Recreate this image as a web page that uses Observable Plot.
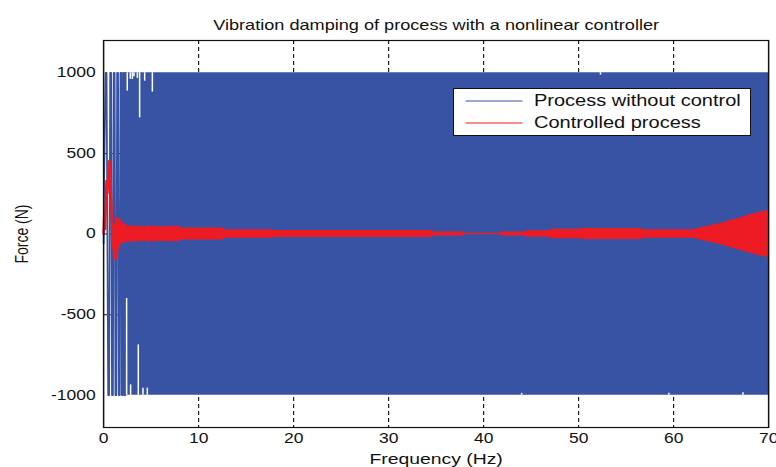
<!DOCTYPE html>
<html>
<head>
<meta charset="utf-8">
<script src="https://cdn.jsdelivr.net/npm/d3@7"></script>
<script src="https://cdn.jsdelivr.net/npm/@observablehq/plot@0.6"></script>
<style>
  html, body { margin: 0; padding: 0; background: #fff; }
  #wrap { position: relative; width: 776px; height: 467px; font-family: "Liberation Sans", Arial, sans-serif; overflow: hidden; }
  #legend { position: absolute; left: 453px; top: 88px; width: 298px; height: 48px; background: #fff; border: 1px solid #111; box-sizing: border-box; }
  #legend .inner { position: absolute; left: 0; top: 0; width: 238px; height: 46px; transform: scaleX(1.25); transform-origin: 0 0; }
  .item { position: absolute; left: 9px; height: 20px; display: flex; align-items: center; font-size: 16px; color: #111; white-space: nowrap; }
  .item svg { display: block; margin-right: 9px; }
</style>
</head>
<body>
<div id="wrap"></div>
<script>
// ---- data ----
const titleText = "Vibration damping of process with a nonlinear controller";
const xLabel = "Frequency (Hz)";
const yLabel = "Force (N)";
const seriesNames = ["Process without control", "Controlled process"];
const xTicks = [0, 10, 20, 30, 40, 50, 60, 70];
const yTicks = [-1000, -500, 0, 500, 1000];
const yGrid = [-500, 0, 500];

// Process without control: first (resolved) oscillations, 0 - 2.4 Hz
const blueEarlyF = [0, 0.05, 0.21, 0.31, 0.48, 0.58, 0.69, 0.79, 0.88, 0.98, 1.06, 1.16, 1.24, 1.34, 1.42, 1.52, 1.60, 1.70, 1.77, 1.87, 1.92, 2.02, 2.06, 2.16, 2.19, 2.29, 2.32, 2.42];
const blueEarlyV = [-60, 330, 1000, 1000, -1000, -1000, 1000, 1000, -1000, -1000, 1000, 1000, -1000, -1000, 1000, 1000, -1000, -1000, 1000, 1000, -1000, -1000, 1000, 1000, -1000, -1000, 1000, 1000];
// Process without control: dense oscillation envelope (saturated at +/-1000)
const blueBandF = [2.4, 70];
const blueBandHi = [1000, 1000];
const blueBandLo = [-1000, -1000];
// places where the dense blue trace leaves the envelope empty
const blueGapF = [2.49, 2.80, 3.02, 3.19, 3.55, 3.79, 4.32, 5.13, 52.3, 2.42, 2.84, 3.65, 4.14, 4.60, 44.0, 59.5, 67.3];
const blueGapFrom = [1000, 1000, 1000, 1000, 1000, 1000, 1000, 1000, 1000, -1000, -1000, -1000, -1000, -1000, -1000, -1000, -1000];
const blueGapTo = [886, 960, 958, 975, 965, 720, 948, 880, 985, -400, -936, -688, -956, -956, -988, -988, -985];

// Controlled process: first oscillations 0 - 2.4 Hz
const redEarlyF = [0, 0.08, 0.15, 0.30, 0.40, 0.60, 0.72, 0.85, 0.95, 1.02, 1.10, 1.18, 1.26, 1.34, 1.42, 1.50, 1.58, 1.66, 1.74, 1.82, 1.90, 1.98, 2.06, 2.14, 2.22, 2.30, 2.38];
const redEarlyV = [0, 140, 30, 330, 250, 455, 330, 120, -90, 60, -150, 60, -160, 100, -110, 95, -80, 90, -60, 75, -50, 65, -45, 60, -45, 55, -45];
// Controlled process: envelope amplitude of the dense oscillation
const redBandF = [2.3, 2.6, 2.9, 3.2, 3.5, 3.8, 4.1, 4.4, 4.7, 5.0, 5.5, 6.0, 6.5, 7.0, 7.5, 8.0, 8.1, 12.6, 12.7, 17.8, 17.9, 34.6, 34.7, 37.9, 38.0, 41.8, 41.9, 44.4, 44.5, 47.0, 47.1, 50.2, 50.3, 56.7, 56.8, 62.1, 63, 64, 65, 66, 67, 68, 69, 70];
const redBandAmp = [55, 44, 55, 42, 52, 44, 50, 42, 52, 45, 50, 44, 48, 45, 48, 46, 37, 37, 27, 27, 21, 21, 12, 12, 4, 4, 12, 12, 20, 20, 29, 29, 34, 34, 26, 26, 40, 52, 66, 84, 100, 118, 133, 148];

const blue = "#3953a4";
const red = "#ed1c24";

// ---- tables ----
const blueEarly = blueEarlyF.map((f, i) => ({f, v: blueEarlyV[i]}));
const blueBand = blueBandF.map((f, i) => ({f, hi: blueBandHi[i], lo: blueBandLo[i]}));
const blueGaps = blueGapF.map((f, i) => ({f, a: blueGapFrom[i], b: blueGapTo[i]}));
const redEarly = redEarlyF.map((f, i) => ({f, v: redEarlyV[i]}));
const redBand = redBandF.map((f, i) => ({f, hi: redBandAmp[i], lo: -redBandAmp[i]}));

// the original figure is stretched horizontally; draw at a narrower width and stretch the SVG
const W = 776, H = 467, stretch = 1.25, w0 = W / stretch;

const chart = Plot.plot({
  width: w0,
  height: H,
  marginLeft: 103 / stretch,
  marginRight: 8 / stretch,
  marginTop: 40,
  marginBottom: 40,
  style: {fontFamily: '"Liberation Sans", Arial, sans-serif', fontSize: "14px", color: "#111", background: "#fff"},
  x: {domain: [0, 70]},
  y: {domain: [-1200, 1200]},
  marks: [
    Plot.ruleX(xTicks.slice(1, -1), {stroke: "#111", strokeWidth: 0.9, strokeDasharray: "4,3"}),
    Plot.ruleY(yGrid, {stroke: "#111", strokeWidth: 1, strokeDasharray: "3.2,2.4"}),
    Plot.line(blueEarly, {x: "f", y: "v", stroke: blue, strokeWidth: 1.4}),
    Plot.areaY(blueBand, {x: "f", y1: "lo", y2: "hi", fill: blue}),
    Plot.ruleX(blueGaps, {x: "f", y1: "a", y2: "b", stroke: "#fff", strokeWidth: 1.2}),
    Plot.line(redEarly, {x: "f", y: "v", stroke: red, strokeWidth: 2}),
    Plot.areaY(redBand, {x: "f", y1: "lo", y2: "hi", fill: red}),
    Plot.frame({stroke: "#111", strokeWidth: 1.2}),
    Plot.axisX(xTicks, {tickSize: 0, tickPadding: 6, tickFormat: d => String(d), fontSize: 14, label: null}),
    Plot.axisY(yTicks, {tickSize: 0, tickPadding: 6.4, tickFormat: d => String(d), fontSize: 14, label: null}),
    Plot.text([xLabel], {frameAnchor: "bottom", lineAnchor: "middle", dy: 32, fontSize: 15.5}),
    Plot.text([yLabel], {frameAnchor: "left", textAnchor: "middle", lineAnchor: "middle", rotate: -90, dx: -65, fontSize: 14}),
    Plot.text([titleText], {frameAnchor: "top", lineAnchor: "middle", dy: -15, fontSize: 14.5})
  ]
});

chart.setAttribute("width", W);
chart.setAttribute("height", H);
chart.setAttribute("preserveAspectRatio", "none");
chart.style.width = W + "px";
chart.style.height = H + "px";
chart.style.maxWidth = "none";

const wrap = document.getElementById("wrap");
wrap.appendChild(chart);
const legend = document.createElement("div");
legend.id = "legend";
legend.innerHTML = `<div class="inner">` + seriesNames.map((n, i) =>
  `<div class="item" style="top:${2 + i * 22}px"><svg width="46" height="4"><line x1="0" x2="46" y1="2" y2="2" stroke="${[blue, red][i]}" stroke-width="1.2"/></svg>${n}</div>`).join("") + `</div>`;
wrap.appendChild(legend);
</script>
</body>
</html>
